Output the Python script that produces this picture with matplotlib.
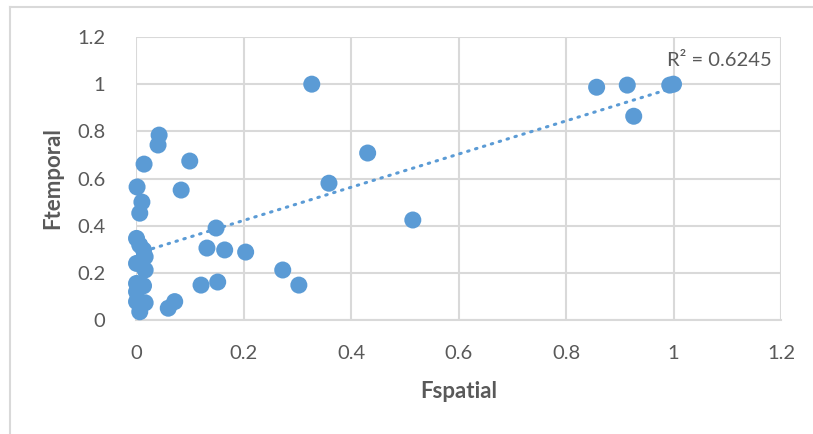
import matplotlib.pyplot as plt
import numpy as np
from matplotlib.lines import Line2D

# Data
fspatial = [0.327, 0.857, 0.914, 0.926, 0.993, 1.0,
            0.431, 0.359, 0.515, 0.043, 0.041, 0.015,
            0.100, 0.002, 0.084, 0.011, 0.007, 0.149,
            0.001, 0.132, 0.165, 0.204, 0.273, 0.303,
            0.121, 0.152, 0.060, 0.072,
            0.007, 0.014, 0.017, 0.001, 0.017, 0.001,
            0.014, 0.001, 0.001, 0.017, 0.007]
ftemporal = [1.0, 0.987, 0.996, 0.864, 0.996, 1.0,
             0.708, 0.580, 0.424, 0.784, 0.742, 0.661,
             0.674, 0.564, 0.551, 0.500, 0.453, 0.390,
             0.346, 0.305, 0.297, 0.288, 0.212, 0.148,
             0.148, 0.161, 0.050, 0.078,
             0.318, 0.297, 0.268, 0.240, 0.212, 0.155,
             0.145, 0.120, 0.078, 0.073, 0.035]
r2_label = 'R² = 0.6245'
ticks = [0, 0.2, 0.4, 0.6, 0.8, 1, 1.2]
tick_labels = ['0', '0.2', '0.4', '0.6', '0.8', '1', '1.2']

blue = '#5B9BD5'
grid = '#D9D9D9'
text_gray = '#595959'

plt.rcParams['font.family'] = ['Lato', 'DejaVu Sans']

fig = plt.figure(figsize=(8.13, 4.34), dpi=100)
ax = fig.add_axes([136 / 813, 1 - 320 / 434, (781 - 136) / 813, (320 - 37) / 434])

x = np.array(fspatial)
y = np.array(ftemporal)

ax.scatter(x, y, s=150, color=blue, edgecolors='none', zorder=3, clip_on=False)

# linear trendline across the data range
slope, intercept = np.polyfit(x, y, 1)
xs = np.linspace(x.min(), x.max(), 100)
ax.plot(xs, slope * xs + intercept, color=blue, lw=2.2,
        linestyle=(0, (0.5, 2.2)), dash_capstyle='round', zorder=2)

ax.text(0.987, 1.10, r2_label, fontsize=14.5, color=text_gray,
        ha='left', va='center')

ax.set_xlim(0, 1.2)
ax.set_ylim(0, 1.2)
ax.set_xticks(ticks)
ax.set_yticks(ticks)
ax.set_xticklabels(tick_labels)
ax.set_yticklabels(tick_labels)
ax.grid(True, color=grid, lw=1.5, zorder=0)
ax.set_axisbelow(True)
for side in ['left', 'top', 'right']:
    ax.spines[side].set_visible(False)
ax.spines['bottom'].set_color(grid)
ax.spines['bottom'].set_linewidth(1.5)
ax.tick_params(length=0, labelsize=14.5, labelcolor=text_gray)
ax.tick_params(axis='x', pad=18)
ax.tick_params(axis='y', pad=22)

ax.set_xlabel('Fspatial', fontsize=16, fontweight='bold', color=text_gray, labelpad=14)
ax.set_ylabel('Ftemporal', fontsize=16, fontweight='bold', color=text_gray, labelpad=10)

# chart area border (left and top edges visible)
fig.add_artist(Line2D([10 / 813, 10 / 813], [0, 1 - 7 / 434], color=grid, lw=1.5,
                      transform=fig.transFigure))
fig.add_artist(Line2D([10 / 813, 1], [1 - 7 / 434, 1 - 7 / 434], color=grid, lw=1.5,
                      transform=fig.transFigure))

fig.savefig('out.png', dpi=100)
